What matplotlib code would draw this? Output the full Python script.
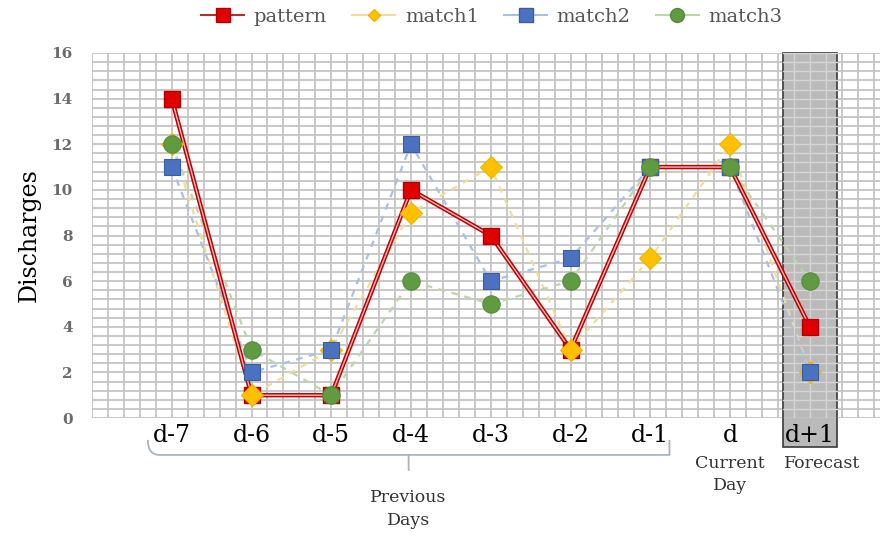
import numpy as np
import matplotlib.pyplot as plt
from matplotlib.lines import Line2D
from matplotlib.patches import Rectangle, PathPatch
from matplotlib.path import Path

plt.rcParams['font.family'] = ['DejaVu Serif']

days = ['d-7', 'd-6', 'd-5', 'd-4', 'd-3', 'd-2', 'd-1', 'd', 'd+1']
pattern = [14, 1, 1, 10, 8, 3, 11, 11, 4]
match1 = [12, 1, 3, 9, 11, 3, 7, 12, 2]
match2 = [11, 2, 3, 12, 6, 7, 11, 11, 2]
match3 = [12, 3, 1, 6, 5, 6, 11, 11, 6]

x = np.arange(len(days))

fig = plt.figure(figsize=(8.82, 5.37), dpi=100)
ax = fig.add_axes([92 / 882, 1 - 418 / 537, 788 / 882, 365 / 537])
ax.set_xlim(-1, 8.88)
ax.set_ylim(0, 16)

# spreadsheet-style cell grid behind everything
grid_col = '#c4c4c4'
for gx in np.arange(-1, 8.9, 0.2):
    ax.axvline(gx, color=grid_col, lw=1.3, zorder=1)
for gy in np.arange(0, 16.01, 0.4):
    ax.axhline(gy, color=grid_col, lw=1.3, zorder=1)

# shaded forecast column
ax.add_patch(Rectangle((7.66, -1.27), 0.68, 17.27, facecolor='#bababa',
                       edgecolor='#3a3a3a', lw=1.2, zorder=1.05, clip_on=False))
for gx in np.arange(7.8, 8.34, 0.2):
    ax.plot([gx, gx], [0, 16], color='#d6d6d6', lw=1.0, zorder=1.1)
for gy in np.arange(0, 16.01, 0.4):
    ax.plot([7.66, 8.34], [gy, gy], color='#d6d6d6', lw=1.0, zorder=1.1)

# pattern: red line with a light centre stripe
ax.plot(x, pattern, color='#c00000', lw=3.2, zorder=3, solid_capstyle='butt')
ax.plot(x, pattern, color='#f2b8b8', lw=1.0, zorder=3.1)
ax.plot(x, pattern, ls='none', marker='s', ms=12, mfc='#e00000',
        mec='#b00000', mew=1, zorder=5)

match_styles = [
    (match1, '#f2dc9a', 'D', '#ffc000', '#f0b400', 11.5),
    (match2, '#a9bfe3', 's', '#4a72c0', '#3b5f9e', 12),
    (match3, '#bcd6a8', 'o', '#619b41', '#55893a', 12.5),
]
for i, (vals, lc, mk, fc, ec, ms) in enumerate(match_styles):
    ax.plot(x, vals, color=lc, lw=1.6, ls=(0, (3, 3)), zorder=2.5)
    ax.plot(x, vals, ls='none', marker=mk, ms=ms, mfc=fc, mec=ec,
            mew=0.8, zorder=6 + i)

ax.set_xticks(x)
ax.set_xticklabels(days, fontsize=17)
ax.set_yticks(np.arange(0, 17, 2))
ax.tick_params(axis='y', labelsize=11, labelcolor='#6b6b6b', length=0, pad=14)
ax.tick_params(axis='x', length=0, pad=4)
for lab in ax.get_yticklabels():
    lab.set_fontweight('bold')
for s in ax.spines.values():
    s.set_visible(False)
ax.set_ylabel('Discharges', fontsize=17, labelpad=8)

# brace under the previous days
x0, x1, xm = -0.30, 6.24, 2.97
y_top, y_mid, y_tip = -0.96, -1.62, -2.32
verts = [
    (x0, y_top), (x0, y_mid), (x0 + 0.15, y_mid), (x0 + 0.3, y_mid),
    (xm - 0.15, y_mid), (xm, y_mid), (xm, y_tip),
    (xm, y_mid), (xm + 0.15, y_mid), (x1 - 0.3, y_mid),
    (x1 - 0.15, y_mid), (x1, y_mid), (x1, y_top),
]
codes = [Path.MOVETO, Path.CURVE3, Path.CURVE3, Path.LINETO,
         Path.CURVE3, Path.CURVE3, Path.LINETO,
         Path.MOVETO, Path.CURVE3, Path.LINETO,
         Path.CURVE3, Path.CURVE3, Path.LINETO]
ax.add_patch(PathPatch(Path(verts, codes), facecolor='none',
                       edgecolor='#a8b4c6', lw=1.3, clip_on=False))

ax.text(xm, -3.1, 'Previous\nDays', ha='center', va='top', fontsize=12.5,
        color='#333333', linespacing=1.45)
ax.text(7, -1.6, 'Current\nDay', ha='center', va='top', fontsize=12.5,
        color='#333333', linespacing=1.45)
ax.text(8.15, -1.6, 'Forecast', ha='center', va='top', fontsize=12.5,
        color='#333333')

handles = [
    Line2D([], [], color='#b03030', lw=1.5, marker='s', ms=10,
           mfc='#e00000', mec='#b00000'),
    Line2D([], [], color='#f2dc9a', lw=1.5, marker='D', ms=6.5,
           mfc='#ffc000', mec='#f0b400'),
    Line2D([], [], color='#a9bfe3', lw=1.5, marker='s', ms=10,
           mfc='#4a72c0', mec='#3b5f9e'),
    Line2D([], [], color='#bcd6a8', lw=1.5, marker='o', ms=10,
           mfc='#619b41', mec='#55893a'),
]
leg = fig.legend(handles, ['pattern', 'match1', 'match2', 'match3'],
                 loc='center', bbox_to_anchor=(492 / 882, 1 - 17 / 537),
                 ncol=4, frameon=False, fontsize=14, handlelength=2.2,
                 columnspacing=1.3, handletextpad=0.5)
for t in leg.get_texts():
    t.set_color('#555555')

fig.savefig('out.png', dpi=100)
